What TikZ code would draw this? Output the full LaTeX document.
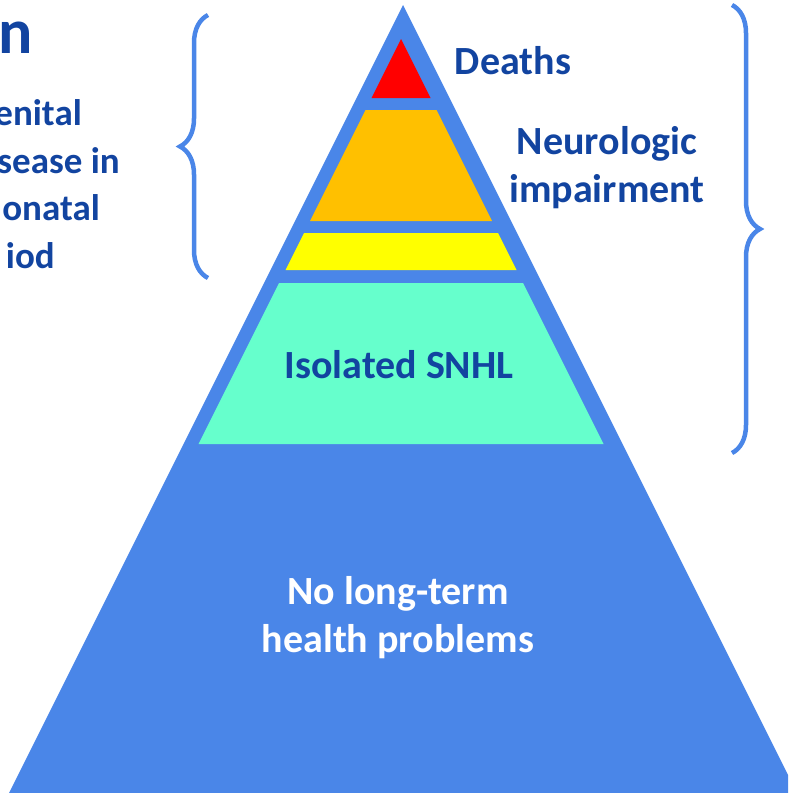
\documentclass[tikz,border=0pt]{standalone}
\usepackage{fontspec}
\setmainfont{Carlito}
\usetikzlibrary{decorations.pathreplacing}

\definecolor{pyrblue}{RGB}{74,134,232}
\definecolor{labelblue}{RGB}{18,68,160}
\definecolor{deathred}{RGB}{255,0,0}
\definecolor{neuroorange}{RGB}{255,192,0}
\definecolor{midyellow}{RGB}{255,255,0}
\definecolor{snhlgreen}{RGB}{102,255,204}

% one band of the pyramid, from #1 down to #2 (inset from the blue edge)
\newcommand{\layer}[3]{%
  \fill[#3] ({401-(#1-39)/2},#1) -- ({401+(#1-39)/2},#1)
     -- ({401+(#2-39)/2},#2) -- ({401-(#2-39)/2},#2) -- cycle ;}

\tikzset{
  lbl/.style={text=labelblue,font=\fontsize{40}{48}\selectfont\bfseries,
    inner sep=0pt,align=center},
  sidelbl/.style={lbl,anchor=base east,font=\fontsize{37}{48}\selectfont\bfseries},
  bracket/.style={draw=pyrblue,line width=4.5pt,
    decorate,decoration={brace,amplitude=28pt}},
}

\begin{document}
\begin{tikzpicture}[x=1pt,y=-1pt]
        \useasboundingbox (0,0) rectangle (788,793) ;
        \clip (0,0) rectangle (788,793) ;
        %\draw[very thin,gray,step=50] (0,0) grid (788,793) ;
        % the pyramid itself
        \fill[pyrblue] (403,5) -- (801,801) -- (5,801) -- cycle ;
        \layer{39}{98}{deathred}
        \layer{110}{221}{neuroorange}
        \layer{233}{270}{midyellow}
        \layer{283}{444}{snhlgreen}
        % labels (base = last line)
        \node[lbl,anchor=base] (deaths) at (513,74) {Deaths} ;
        \node[lbl,anchor=base] (neuro) at (607,202) {Neurologic\\impairment} ;
        \node[lbl,anchor=base] (snhl) at (399,378) {Isolated SNHL} ;
        \node[lbl,anchor=base,text=white] (healthy) at (398,652)
        {No long-term\\health problems} ;
        % left hand text (runs off the page)
        \node[sidelbl,font=\fontsize{64}{64}\selectfont\bfseries]
        (title) at (33,53) {n} ;
        \node[sidelbl] (leftA) at (82,125) {enital} ;
        \node[sidelbl] (leftB) at (120,173) {sease in} ;
        \node[sidelbl] (leftC) at (100,220) {onatal} ;
        \node[sidelbl] (leftD) at (55,268) {iod} ;
        % braces
        \coordinate (lbot) at (208,278) ;
        \coordinate (ltop) at (208,15) ;
        \coordinate (rtop) at (732,5) ;
        \coordinate (rbot) at (732,453) ;
        \draw[bracket] (lbot) -- (ltop) ;
        \draw[bracket] (rtop) -- (rbot) ;
      \end{tikzpicture}
\end{document}
